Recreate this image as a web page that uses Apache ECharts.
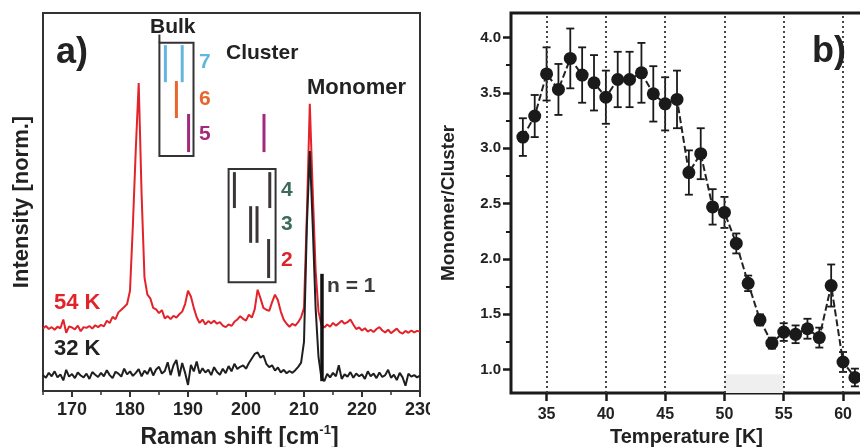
<!DOCTYPE html>
<html><head><meta charset="utf-8">
<script src="https://cdn.jsdelivr.net/npm/echarts@6/dist/echarts.min.js"></script>
<style>html,body{margin:0;padding:0;background:#fff}#c{width:860px;height:447px}</style>
</head><body><div id="c"></div>
<script>
// ---------- Panel a: Raman spectra ----------
const ramanShift = [
165,165.5,166,166.5,167,167.5,168,168.5,169,169.5,
170,170.5,171,171.5,172,172.5,173,173.5,174,174.5,
175,175.5,176,176.5,177,177.5,178,178.5,179,179.5,
180,180.5,181,181.5,182,182.5,183,183.5,184,184.5,
185,185.5,186,186.5,187,187.5,188,188.5,189,189.5,
190,190.5,191,191.5,192,192.5,193,193.5,194,194.5,
195,195.5,196,196.5,197,197.5,198,198.5,199,199.5,
200,200.5,201,201.5,202,202.5,203,203.5,204,204.5,
205,205.5,206,206.5,207,207.5,208,208.5,209,209.5,
210,210.5,211,211.5,212,212.5,213,213.5,214,214.5,
215,215.5,216,216.5,217,217.5,218,218.5,219,219.5,
220,220.5,221,221.5,222,222.5,223,223.5,224,224.5,
225,225.5,226,226.5,227,227.5,228,228.5,229,229.5,
230];
const intensity54K = [
16.5,17.2,16.4,16.9,16.2,17.0,16.6,18.9,15.4,17.1,
16.8,16.3,17.3,15.8,16.9,16.7,17.2,16.5,17.4,16.9,
17.5,17.1,18.6,18.0,19.6,19.0,20.8,21.5,22.2,23.0,
26.5,44,64,81.5,52,30,25.5,24.5,22.0,21.6,
20.6,21.4,19.2,19.8,19.0,19.9,19.4,20.3,21.0,23.0,
26.5,25.0,22.0,19.5,18.0,18.9,17.6,18.5,17.9,18.6,
17.8,18.2,17.3,16.9,17.6,17.2,18.3,18.9,19.8,19.1,
18.6,20.2,19.4,21.6,26.8,24.5,22.0,21.5,21.2,23.5,
25.5,24.0,21.0,18.9,17.8,17.0,17.8,17.3,18.2,19.5,
22,47,76,53,32,21,17.5,16.8,17.6,17.0,
18.0,17.3,17.9,18.6,17.8,18.2,18.9,17.6,16.4,16.8,
16.0,16.6,15.7,16.2,15.6,16.4,16.9,16.0,15.5,16.2,
15.3,15.9,16.5,15.6,15.2,15.9,15.4,16.0,15.5,15.9,
15.7];
const intensity32K = [
4.2,3.5,4.8,3.9,5.2,3.6,4.4,2.8,5.6,3.8,
4.5,3.4,4.9,4.1,3.6,4.6,3.2,5.0,4.3,3.7,
4.8,3.9,5.5,4.2,3.4,5.1,4.6,3.8,5.9,4.4,
5.2,4.0,4.8,5.8,3.9,5.4,4.5,6.2,4.1,5.7,
6.4,4.6,5.3,7.6,4.2,6.8,8.2,3.9,7.4,4.8,
1.6,6.9,5.2,7.8,4.6,6.0,4.9,5.6,4.2,6.3,
5.0,4.3,5.9,4.7,6.6,5.2,7.2,5.8,6.4,6.8,
5.9,7.4,8.6,9.8,10.2,8.8,9.4,7.2,6.3,6.8,
5.4,6.2,4.9,5.6,4.7,5.3,4.8,5.5,6.4,7.5,
13,44,63.5,44,22,9,3.5,2.6,4.5,3.6,
4.8,3.9,6.8,3.2,4.4,3.8,5.0,3.5,4.6,3.9,
4.4,3.2,5.2,3.9,4.6,3.4,4.9,3.7,4.2,5.6,
3.5,4.3,2.9,4.8,3.6,1.4,4.6,3.8,4.2,3.6,
4.1];
const ramanTicks = [170,180,190,200,210,220,230];
const ramanMinorTicks = [165,175,185,195,205,215,225];

// peak-position markers: [wavenumber, yLow, yHigh]
const bulkBlueMarks = [[186.1,81.7,91.5],[189.0,81.7,91.5]];
const orangeMarks = [[188.0,72.2,82.0]];
const purpleMarks = [[190.1,63.2,73.3],[203.1,63.2,73.3]];
const darkMarks = [[198.0,48.4,57.9],[204.1,48.4,57.9],[200.8,39.2,48.9],[201.9,39.2,48.9],[203.9,29.9,40.2]];
const monomerMark = [[213.1,2.6,31.0]];
// boxes: [xLeft, xRight, yBottom, yTop]
const annotationBoxes = [[185.07,190.95,62.2,92.1],[197.0,205.1,28.8,58.7]];
const boxEdgeExt = [[185.07,92.1,94.3]];

// ---------- Panel b: Monomer/Cluster ratio ----------
const temperatureK = [33,34,35,36,37,38,39,40,41,42,43,44,45,46,47,48,49,50,51,52,53,54,55,56,57,58,59,60,61];
const monomerCluster = [3.10,3.29,3.67,3.53,3.81,3.66,3.59,3.46,3.62,3.62,3.68,3.49,3.40,3.44,2.78,2.95,2.47,2.42,2.14,1.78,1.45,1.24,1.34,1.32,1.37,1.29,1.76,1.07,0.93];
const ratioError = [0.17,0.19,0.24,0.23,0.27,0.25,0.25,0.24,0.25,0.25,0.27,0.25,0.24,0.26,0.20,0.23,0.16,0.14,0.09,0.07,0.05,0.05,0.08,0.08,0.09,0.09,0.19,0.09,0.08];
const tempTicks = [35,40,45,50,55,60];
const ratioTicks = [1.0,1.5,2.0,2.5,3.0,3.5,4.0];
const ratioMinorTicks = [1.25,1.75,2.25,2.75,3.25,3.75];
const shadedBand = [50,55,0.79,0.96];

const FONT = '"Liberation Sans", Arial, Helvetica, sans-serif';
const chart = echarts.init(document.getElementById('c'), null, {renderer:'canvas'});

function segSeries(data, color, width) {
  return {
    type:'custom', xAxisIndex:0, yAxisIndex:0, data: data, silent:true, clip:false, z:6,
    renderItem: function(p, api) {
      const a = api.coord([api.value(0), api.value(1)]);
      const b = api.coord([api.value(0), api.value(2)]);
      return {type:'line', shape:{x1:a[0],y1:a[1],x2:b[0],y2:b[1]}, style:{stroke:color, lineWidth:width}};
    }
  };
}

function txt(text, x, y, size, color) {
  return {type:'text', x:x, y:y, z:50, style:{text:text, fill:color, font:'bold ' + size + 'px ' + FONT, align:'left', verticalAlign:'middle'}};
}

const option = {
  backgroundColor:'#fff',
  animation:false,
  grid:[
    {left:43, top:13, width:377, height:378, show:true, borderColor:'#333', borderWidth:2, backgroundColor:'transparent', outerBoundsMode:'none'},
    {left:511, top:13, width:351, height:380, show:true, borderColor:'#1a1a1a', borderWidth:3, backgroundColor:'transparent', outerBoundsMode:'none'}
  ],
  xAxis:[
    {gridIndex:0, type:'value', min:165, max:230, position:'bottom',
     axisLine:{show:false}, splitLine:{show:false},
     axisTick:{show:true, customValues:ramanTicks, length:6, lineStyle:{color:'#333', width:2}},
     axisLabel:{customValues:ramanTicks, margin:10, color:'#222', fontSize:18, fontWeight:'bold', fontFamily:FONT},
     name:'{t|Raman shift [cm}{s|-1}{t|]}', nameLocation:'middle', nameGap:26,
     nameTextStyle:{padding:[0,0,0,16], rich:{
       t:{fontSize:23, fontWeight:'bold', fontFamily:FONT, color:'#222', lineHeight:28},
       s:{fontSize:13, fontWeight:'bold', fontFamily:FONT, color:'#222', verticalAlign:'top', lineHeight:14}
     }}},
    {gridIndex:0, type:'value', min:165, max:230, position:'bottom',
     axisLine:{show:false}, splitLine:{show:false}, axisLabel:{show:false},
     axisTick:{show:true, customValues:ramanMinorTicks, length:4, lineStyle:{color:'#333', width:1.5}}},
    {gridIndex:1, type:'value', min:32, max:61.6, position:'bottom',
     axisLine:{show:false}, splitLine:{show:false},
     axisTick:{show:true, customValues:tempTicks, length:8, lineStyle:{color:'#1a1a1a', width:2.5}},
     axisLabel:{customValues:tempTicks, margin:14, color:'#222', fontSize:16, fontWeight:'bold', fontFamily:FONT},
     name:'Temperature [K]', nameLocation:'middle', nameGap:31,
     nameTextStyle:{fontSize:20, fontWeight:'bold', fontFamily:FONT, color:'#222'}}
  ],
  yAxis:[
    {gridIndex:0, type:'value', min:0, max:100, position:'left',
     axisLine:{show:false}, axisTick:{show:false}, axisLabel:{show:false}, splitLine:{show:false},
     name:'Intensity [norm.]', nameLocation:'middle', nameGap:10,
     nameTextStyle:{fontSize:22, fontWeight:'bold', fontFamily:FONT, color:'#222'}},
    {gridIndex:1, type:'value', min:0.79, max:4.22, position:'left',
     axisLine:{show:false}, splitLine:{show:false},
     axisTick:{show:true, customValues:ratioTicks, length:8, lineStyle:{color:'#1a1a1a', width:2.5}},
     axisLabel:{customValues:ratioTicks, margin:10, color:'#222', fontSize:15, fontWeight:'bold', fontFamily:FONT,
       formatter:function(v){return Number(v).toFixed(1);}},
     name:'Monomer/Cluster', nameLocation:'middle', nameGap:53,
     nameTextStyle:{fontSize:19, fontWeight:'bold', fontFamily:FONT, color:'#222'}},
    {gridIndex:1, type:'value', min:0.79, max:4.22, position:'left',
     axisLine:{show:false}, splitLine:{show:false}, axisLabel:{show:false},
     axisTick:{show:true, customValues:ratioMinorTicks, length:5, lineStyle:{color:'#1a1a1a', width:2}}}
  ],
  series:[
    {type:'line', xAxisIndex:0, yAxisIndex:0, data: ramanShift.map(function(x,i){return [x, intensity54K[i]];}),
     symbol:'none', lineStyle:{color:'#e3232a', width:2}, z:3},
    {type:'line', xAxisIndex:0, yAxisIndex:0, data: ramanShift.map(function(x,i){return [x, intensity32K[i]];}),
     symbol:'none', lineStyle:{color:'#1f1f1f', width:2}, z:4},
    segSeries(bulkBlueMarks, '#62b6e0', 3),
    segSeries(orangeMarks, '#e8652b', 3),
    segSeries(purpleMarks, '#a3287e', 3),
    segSeries(darkMarks, '#3a3536', 3),
    segSeries(monomerMark, '#111', 3.5),
    segSeries(boxEdgeExt, '#333', 2),
    {type:'custom', xAxisIndex:0, yAxisIndex:0, data: annotationBoxes, silent:true, clip:false, z:6,
     renderItem:function(p, api){
       const a = api.coord([api.value(0), api.value(3)]);
       const b = api.coord([api.value(1), api.value(2)]);
       return {type:'rect', shape:{x:a[0], y:a[1], width:b[0]-a[0], height:b[1]-a[1]}, style:{fill:'none', stroke:'#333', lineWidth:2}};
     }},
    // panel b guides
    {type:'line', xAxisIndex:2, yAxisIndex:1, data: temperatureK.map(function(t,i){return [t, monomerCluster[i]];}),
     symbol:'none', lineStyle:{opacity:0}, silent:true, z:1,
     markLine:{silent:true, symbol:'none', label:{show:false},
       lineStyle:{type:[2,3], color:'#333', width:1.8},
       data: tempTicks.map(function(t){return {xAxis:t};})},
     markArea:{silent:true, itemStyle:{color:'#efefef'},
       data:[[{xAxis:shadedBand[0], yAxis:shadedBand[2]},{xAxis:shadedBand[1], yAxis:shadedBand[3]}]]}},
    {type:'custom', xAxisIndex:2, yAxisIndex:1, silent:true, z:4,
     data: temperatureK.map(function(t,i){return [t, monomerCluster[i]-ratioError[i], monomerCluster[i]+ratioError[i]];}),
     renderItem:function(p, api){
       const lo = api.coord([api.value(0), api.value(1)]);
       const hi = api.coord([api.value(0), api.value(2)]);
       const st = {stroke:'#1a1a1a', lineWidth:1.8};
       return {type:'group', children:[
         {type:'line', shape:{x1:lo[0],y1:lo[1],x2:hi[0],y2:hi[1]}, style:st},
         {type:'line', shape:{x1:lo[0]-4,y1:lo[1],x2:lo[0]+4,y2:lo[1]}, style:st},
         {type:'line', shape:{x1:hi[0]-4,y1:hi[1],x2:hi[0]+4,y2:hi[1]}, style:st}
       ]};
     }},
    {type:'line', xAxisIndex:2, yAxisIndex:1, data: temperatureK.map(function(t,i){return [t, monomerCluster[i]];}),
     symbol:'circle', symbolSize:13, itemStyle:{color:'#1a1a1a'},
     lineStyle:{color:'#222', width:2, type:[7,3]}, z:5}
  ],
  graphic:[
    txt('a)', 56, 53, 36, '#222'),
    txt('Bulk', 150, 27, 21, '#222'),
    txt('Cluster', 226, 53, 21, '#222'),
    txt('Monomer', 307, 88, 22, '#222'),
    txt('7', 199, 62, 21, '#62b6e0'),
    txt('6', 199, 99, 21, '#e8652b'),
    txt('5', 199, 134, 21, '#a3287e'),
    txt('4', 281, 190, 21, '#3c6b58'),
    txt('3', 281, 224, 21, '#3c6b58'),
    txt('2', 281, 260, 21, '#d9262c'),
    txt('n = 1', 327, 286, 21, '#3a3a3a'),
    txt('54 K', 54, 303, 22, '#e3232a'),
    txt('32 K', 54, 349, 22, '#222'),
    txt('b)', 812, 52, 36, '#222'),
    {type:'rect', z:60, shape:{x:430, y:396, width:36, height:51}, style:{fill:'#fff'}}
  ]
};
chart.setOption(option);
</script>
</body></html>
